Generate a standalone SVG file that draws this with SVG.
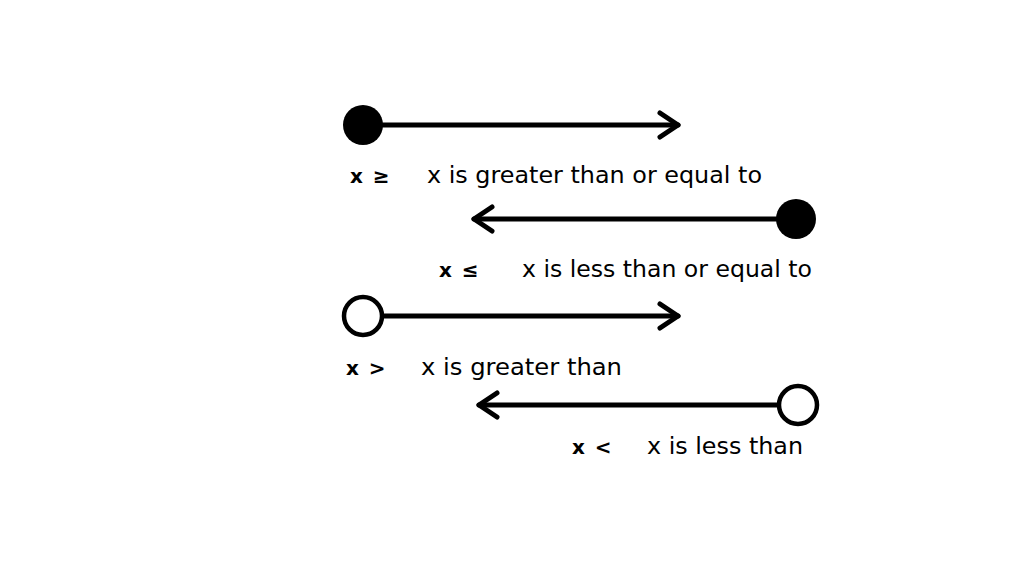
<svg xmlns="http://www.w3.org/2000/svg" width="1024" height="576" viewBox="0 0 1024 576">
<style>
.ln{stroke:#000;stroke-width:5;fill:none;stroke-linecap:round}
.ah{stroke:#000;stroke-width:5;fill:none;stroke-linecap:round;stroke-linejoin:round}
.dot{fill:#000}
.hole{fill:#fff;stroke:#000;stroke-width:4.5}
.sym{font-family:"DejaVu Sans",sans-serif;font-size:20px;font-weight:bold;fill:#000;word-spacing:3px}
.lbl{font-family:"DejaVu Sans",sans-serif;font-size:23px;fill:#000}
</style>
<rect width="1024" height="576" fill="#fff"/>
<g id="connectors">
<line class="ln" x1="380" y1="125" x2="678" y2="125"/>
<polyline class="ah" points="660,113 678,125 660,137"/>
<line class="ln" x1="780" y1="219" x2="474" y2="219"/>
<polyline class="ah" points="492,207 474,219 492,231"/>
<line class="ln" x1="382" y1="316" x2="678" y2="316"/>
<polyline class="ah" points="660,304 678,316 660,328"/>
<line class="ln" x1="778" y1="405" x2="479" y2="405"/>
<polyline class="ah" points="497,393 479,405 497,417"/>
</g>
<g id="geq">
<circle class="dot" cx="363" cy="125" r="20"/>
<text class="sym" x="350" y="183">x ≥</text>
<text class="lbl" x="427" y="183" textLength="335" lengthAdjust="spacingAndGlyphs">x is greater than or equal to</text>
</g>
<g id="leq">
<circle class="dot" cx="796" cy="219" r="20"/>
<text class="sym" x="439" y="277">x ≤</text>
<text class="lbl" x="522" y="277" textLength="290" lengthAdjust="spacingAndGlyphs">x is less than or equal to</text>
</g>
<g id="gt">
<circle class="hole" cx="363" cy="316" r="19"/>
<text class="sym" x="346" y="375">x &gt;</text>
<text class="lbl" x="421" y="375" textLength="201" lengthAdjust="spacingAndGlyphs">x is greater than</text>
</g>
<g id="lt">
<circle class="hole" cx="798" cy="405" r="19"/>
<text class="sym" x="572" y="454">x &lt;</text>
<text class="lbl" x="647" y="454" textLength="156" lengthAdjust="spacingAndGlyphs">x is less than</text>
</g>
</svg>
